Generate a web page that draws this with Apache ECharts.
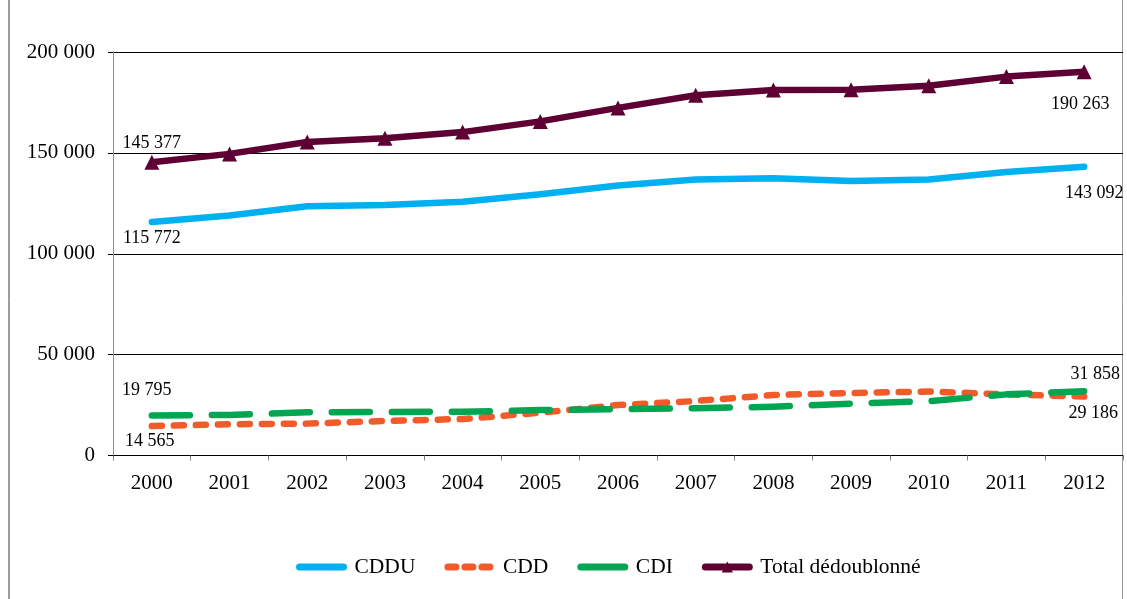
<!DOCTYPE html>
<html>
<head>
<meta charset="utf-8">
<title>Effectifs par type de contrat</title>
<script src="https://cdn.jsdelivr.net/npm/echarts@6/dist/echarts.min.js"></script>
<style>
  html, body { margin: 0; padding: 0; background: #fff; }
  #chart { width: 1127px; height: 599px; }
</style>
</head>
<body>
<div id="chart"></div>
<script>
// data (first and last points are labelled in the original)
var years = ['2000', '2001', '2002', '2003', '2004', '2005', '2006', '2007', '2008', '2009', '2010', '2011', '2012'];
var cddu = [115772, 119000, 123500, 124200, 125800, 129500, 133800, 136800, 137400, 136000, 136800, 140500, 143092];
var cdd = [14565, 15500, 15800, 17100, 18100, 21200, 25000, 27000, 30000, 31000, 31700, 30300, 29186];
var cdi = [19795, 20100, 21400, 21600, 21700, 22500, 23000, 23400, 24200, 25700, 26900, 30300, 31858];
var total = [145377, 149500, 155400, 157300, 160300, 165600, 172300, 178600, 181200, 181300, 183300, 187800, 190263];
var yTicks = [0, 50000, 100000, 150000, 200000];

var FONT = '"Liberation Serif", "Times New Roman", serif';
var C_CDDU = '#00b0f0', C_CDD = '#f15a29', C_CDI = '#00a651', C_TOT = '#5e0034';

function fmt(v) {
	return String(v).replace(/\B(?=(\d{3})+(?!\d))/g, ' ');
}

// only the first and last points carry a value label
function withEndLabels(values, firstOffset, lastOffset) {
	var last = values.length - 1;
	return values.map(function (v, i) {
		if (i !== 0 && i !== last) return v;
		return {
			value: v,
			label: {
				show: true,
				position: 'inside',
				offset: i === 0 ? firstOffset : lastOffset,
				formatter: function (p) { return fmt(p.value); },
				color: '#000',
				fontFamily: FONT,
				fontSize: 18
			}
		};
	});
}

var chart = echarts.init(document.getElementById('chart'));

chart.setOption({
	animation: false,
	backgroundColor: '#fff',
	textStyle: { fontFamily: FONT },
	grid: {
		left: 113,
		right: 4,
		top: 52,
		bottom: 143.5
	},
	legend: {
		left: 291,
		top: 551,
		itemWidth: 44,
		itemHeight: 14,
		itemGap: 29,
		textStyle: { color: '#000', fontFamily: FONT, fontSize: 21.5, padding: [0, 0, 0, 6] },
		data: [
			{ name: 'CDDU', itemStyle: { opacity: 0 }, lineStyle: { width: 7, cap: 'round' } },
			{ name: 'CDD', itemStyle: { opacity: 0 }, lineStyle: { width: 7, cap: 'round', type: [8, 9] } },
			{ name: 'CDI', itemStyle: { opacity: 0 }, lineStyle: { width: 7, cap: 'round', type: 'solid' } },
			{ name: 'Total dédoublonné', lineStyle: { width: 7, cap: 'round' } }
		]
	},
	xAxis: {
		type: 'category',
		data: years,
		boundaryGap: true,
		axisLine: { lineStyle: { color: '#000', width: 1 } },
		axisTick: { show: true, length: 5, lineStyle: { color: '#7f7f7f' } },
		axisLabel: { color: '#000', fontFamily: FONT, fontSize: 21, margin: 17, interval: 0 },
		splitLine: { show: false }
	},
	yAxis: {
		type: 'value',
		min: yTicks[0],
		max: yTicks[yTicks.length - 1],
		interval: yTicks[1] - yTicks[0],
		axisLine: { show: true, lineStyle: { color: '#8c8c8c', width: 1 } },
		axisTick: { show: true, length: 5, lineStyle: { color: '#000' } },
		axisLabel: { color: '#000', fontFamily: FONT, fontSize: 21, margin: 18, formatter: fmt },
		splitLine: { show: true, lineStyle: { color: '#000', width: 1 } }
	},
	graphic: [
		{ type: 'line', shape: { x1: 9, y1: 0, x2: 9, y2: 599 }, style: { stroke: '#3a3a3a', lineWidth: 1 } },
		{ type: 'line', shape: { x1: 1122.5, y1: 0, x2: 1122.5, y2: 599 }, style: { stroke: '#9a9a9a', lineWidth: 1 } }
	],
	series: [
		{
			name: 'CDDU',
			type: 'line',
			symbol: 'circle',
			symbolSize: 0.01,
			showAllSymbol: true,
			color: C_CDDU,
			lineStyle: { color: C_CDDU, width: 6.5, cap: 'round', join: 'round' },
			data: withEndLabels(cddu, [0, 16], [10, 26])
		},
		{
			name: 'CDD',
			type: 'line',
			symbol: 'circle',
			symbolSize: 0.01,
			showAllSymbol: true,
			color: C_CDD,
			lineStyle: { color: C_CDD, width: 6.5, type: [10, 12], cap: 'round', join: 'round' },
			data: withEndLabels(cdd, [-2, 15], [9, 17])
		},
		{
			name: 'CDI',
			type: 'line',
			symbol: 'circle',
			symbolSize: 0.01,
			showAllSymbol: true,
			color: C_CDI,
			lineStyle: { color: C_CDI, width: 6.5, type: [38, 22], cap: 'round', join: 'round' },
			data: withEndLabels(cdi, [-5, -25], [11, -17])
		},
		{
			name: 'Total dédoublonné',
			type: 'line',
			symbol: 'triangle',
			symbolSize: [15, 15],
			showAllSymbol: true,
			color: C_TOT,
			itemStyle: { color: C_TOT },
			lineStyle: { color: C_TOT, width: 6.5, join: 'round' },
			data: withEndLabels(total, [0, -19], [-4, 33])
		}
	]
});
</script>
</body>
</html>
